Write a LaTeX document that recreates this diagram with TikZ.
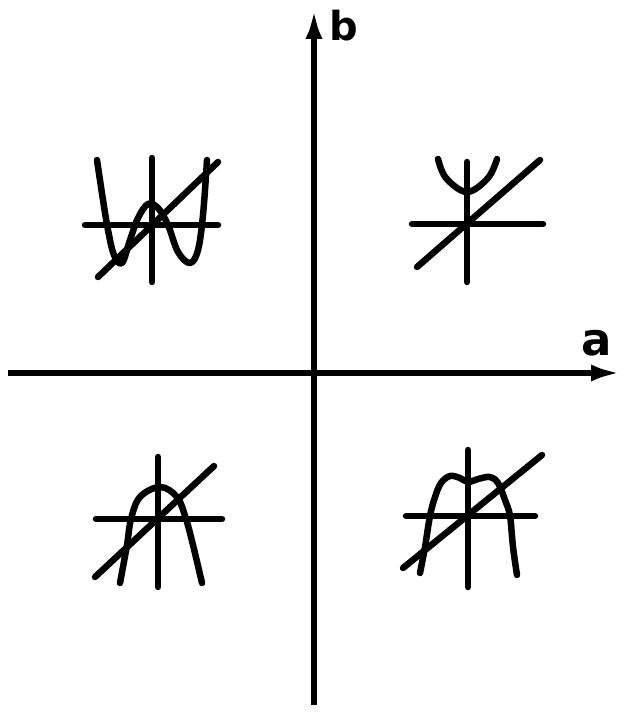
\documentclass[tikz,border=0pt]{standalone}
\usepackage{fontspec}
\setsansfont{DejaVu Sans}
\usetikzlibrary{arrows.meta}

\tikzset{
  mainaxis/.style={line width=6pt, -{Latex[length=30pt,width=17pt]}},
  stroke/.style={line width=6.5pt, line cap=round},
  curve/.style={stroke, line join=round},
  axlabel/.style={font=\sffamily\bfseries, inner sep=0pt}
}

\begin{document}
\begin{tikzpicture}[x=1pt, y=-1pt]
    \useasboundingbox (0,0) rectangle (624,719);

    % main axes
    \coordinate (west) at (8,373);
    \coordinate (east) at (621,373);
    \coordinate (south) at (314,705);
    \coordinate (north) at (314,9);
    \draw[mainaxis] (west) -- (east);
    \draw[mainaxis] (south) -- (north);
    \node[axlabel, font=\sffamily\bfseries\fontsize{40}{40}\selectfont] (lblb) at (344,26) {b};
    \node[axlabel, font=\sffamily\bfseries\fontsize{45}{45}\selectfont] (lbla) at (597,343) {a};

    % upper left: W shape
    \begin{scope}[shift={(152,225)}]
        \draw[stroke] (-67,0) -- (66,0);
        \draw[stroke] (0,-67) -- (0,57);
        \draw[stroke] (-54,52) -- (66,-63);
        \draw[curve] plot[smooth, tension=0.6] coordinates {(-55,-65) (-49,-25) (-44,5) (-38,30) (-30,38)
            (-22,15) (-14,-7) (-4,-21) (6,-17) (16,0) (26,27) (38,38) (46,25) (51,-10) (55,-65)};
    \end{scope}

    % upper right: U shape
    \begin{scope}[shift={(467,224)}]
        \draw[stroke] (-55,0) -- (76,0);
        \draw[stroke] (0,-62) -- (0,58);
        \draw[stroke] (-50,43) -- (73,-64);
        \draw[curve] plot[smooth, tension=0.6] coordinates {(-29,-65) (-21,-46) (0,-32) (21,-46) (30,-65)};
    \end{scope}

    % lower left: cap shape
    \begin{scope}[shift={(158,519)}]
        \draw[stroke] (-62,0) -- (64,0);
        \draw[stroke] (0,-62) -- (0,68);
        \draw[stroke] (-63,58) -- (56,-53);
        \draw[curve] plot[smooth, tension=0.6] coordinates {(-38,64) (-31,26) (-27,0) (-18,-22) (2,-32)
            (19,-22) (28,0) (35,26) (44,64)};
    \end{scope}

    % lower right: flat top
    \begin{scope}[shift={(468,516)}]
        \draw[stroke] (-62,0) -- (67,0);
        \draw[stroke] (0,-66) -- (0,71);
        \draw[stroke] (-65,52) -- (74,-61);
        \draw[curve] plot[smooth, tension=0.6] coordinates {(-48,57) (-43,31) (-38,0) (-33,-19) (-27,-33)
            (-18,-40) (-8,-38) (0,-34) (10,-37) (22,-39) (30,-33) (37,-16) (42,0) (45,31) (49,59)};
    \end{scope}
\end{tikzpicture}
\end{document}
